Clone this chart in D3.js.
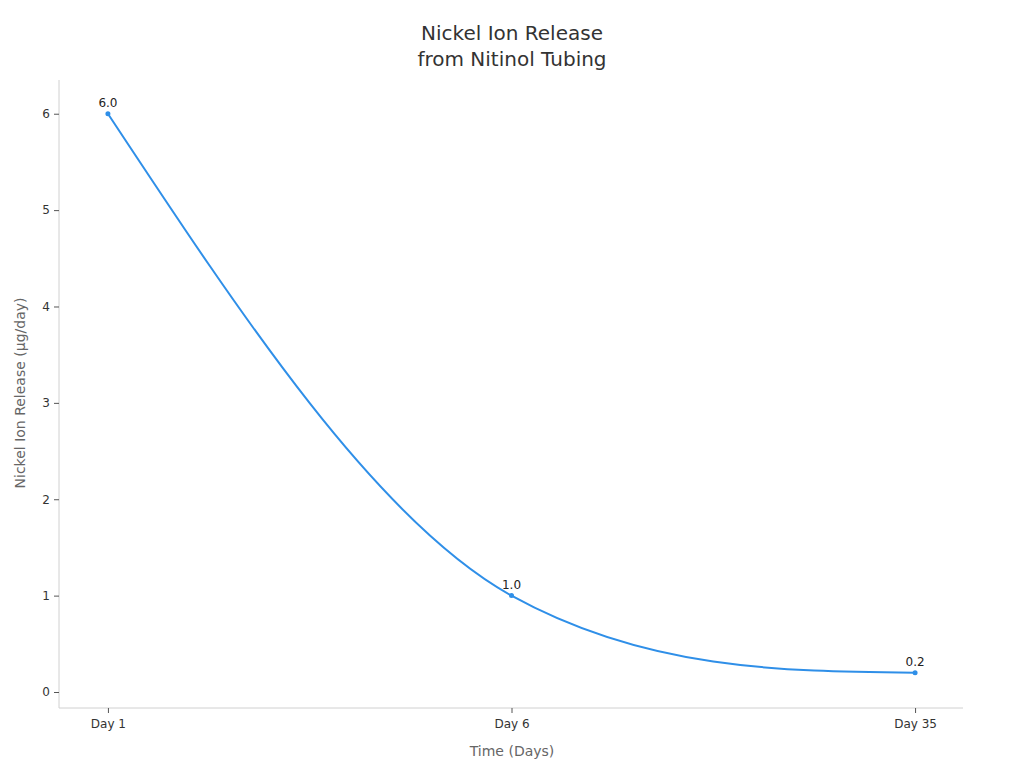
<!DOCTYPE html>
<html><head><meta charset="utf-8">
<script src="https://cdn.jsdelivr.net/npm/d3@7"></script>
<style>body{margin:0;background:#fff;font-family:"DejaVu Sans",sans-serif;}</style>
</head><body>
<svg id="c" width="1024" height="768"></svg>
<script>
const categories = ["Day 1", "Day 6", "Day 35"];
const values = [6.0, 1.0, 0.2];
const yTicks = [0, 1, 2, 3, 4, 5, 6];

const svg = d3.select("#c");
const mLeft = 59, mRight = 963, mTop = 80, mBottom = 708;

const x = d3.scalePoint().domain(categories).range([mLeft + 0.5, mRight + 0.5]).padding(0.12);
const y = d3.scaleLinear().domain([-0.166, 6.35]).range([mBottom, mTop]);

// Monotone cubic curve (Fritsch–Carlson interior tangents, one-sided end tangents)
function curveSmoothMono(context) {
  let pts = [];
  return {
    areaStart() {}, areaEnd() {},
    lineStart() { pts = []; },
    point(px, py) { pts.push([+px, +py]); },
    lineEnd() {
      const n = pts.length;
      if (!n) return;
      context.moveTo(pts[0][0], pts[0][1]);
      if (n === 1) return;
      if (n === 2) { context.lineTo(pts[1][0], pts[1][1]); return; }
      const d = [], m = new Array(n).fill(0);
      for (let i = 0; i < n - 1; i++) d.push((pts[i+1][1] - pts[i][1]) / (pts[i+1][0] - pts[i][0]));
      m[0] = d[0]; m[n-1] = d[n-2];
      for (let i = 1; i < n - 1; i++) m[i] = (d[i-1] * d[i] <= 0) ? 0 : (d[i-1] + d[i]) / 2;
      for (let i = 0; i < n - 1; i++) {
        if (d[i] === 0) { m[i] = 0; m[i+1] = 0; continue; }
        const a = m[i] / d[i], b = m[i+1] / d[i], s = a*a + b*b;
        if (s > 9) { const t = 3 / Math.sqrt(s); m[i] = t*a*d[i]; m[i+1] = t*b*d[i]; }
      }
      m[0] = (3 * d[0] - m[1]) / 2;
      m[n-1] = (3 * d[n-2] - m[n-2]) / 2;
      for (let i = 0; i < n - 1; i++) {
        const [x0, y0] = pts[i], [x1, y1] = pts[i+1], h = (x1 - x0) / 3;
        context.bezierCurveTo(x0 + h, y0 + m[i]*h, x1 - h, y1 - m[i+1]*h, x1, y1);
      }
    }
  };
}

svg.append("text").attr("x", 512).attr("y", 40).attr("text-anchor", "middle")
  .attr("font-size", 20).attr("fill", "#333").text("Nickel Ion Release");
svg.append("text").attr("x", 512).attr("y", 66).attr("text-anchor", "middle")
  .attr("font-size", 20).attr("fill", "#333").text("from Nitinol Tubing");

svg.append("line").attr("x1", mLeft).attr("x2", mLeft).attr("y1", mTop).attr("y2", mBottom)
  .attr("stroke", "#d0d0d0").attr("stroke-width", 1);
svg.append("line").attr("x1", mLeft).attr("x2", mRight).attr("y1", mBottom).attr("y2", mBottom)
  .attr("stroke", "#d0d0d0").attr("stroke-width", 1);

const yAxis = svg.append("g").attr("transform", `translate(${mLeft},0)`)
  .call(d3.axisLeft(y).tickValues(yTicks).tickSize(5).tickPadding(4).tickFormat(d3.format("d")));
yAxis.select(".domain").remove();
yAxis.selectAll("line").attr("stroke", "#555");
yAxis.selectAll("text").attr("font-size", 12).attr("fill", "#333").attr("font-family", "DejaVu Sans");

const xAxis = svg.append("g").attr("transform", `translate(0,${mBottom})`)
  .call(d3.axisBottom(x).tickSize(5).tickPadding(6));
xAxis.select(".domain").remove();
xAxis.selectAll("line").attr("stroke", "#555");
xAxis.selectAll("text").attr("font-size", 12).attr("fill", "#333").attr("font-family", "DejaVu Sans");

svg.append("text").attr("x", 512).attr("y", 756).attr("text-anchor", "middle")
  .attr("font-size", 14).attr("fill", "#666").text("Time (Days)");
svg.append("text").attr("transform", "translate(25,393) rotate(-90)").attr("text-anchor", "middle")
  .attr("font-size", 14).attr("fill", "#666").text("Nickel Ion Release (µg/day)");

const data = categories.map((c, i) => ({c, v: values[i]}));
const line = d3.line().x(d => x(d.c)).y(d => y(d.v)).curve(curveSmoothMono);
svg.append("path").datum(data).attr("d", line).attr("fill", "none")
  .attr("stroke", "#2f8fe8").attr("stroke-width", 2);

svg.selectAll("circle.pt").data(data).enter().append("circle")
  .attr("cx", d => x(d.c)).attr("cy", d => y(d.v)).attr("r", 2.5).attr("fill", "#2f8fe8");

svg.selectAll("text.lbl").data(data).enter().append("text")
  .attr("x", d => x(d.c)).attr("y", d => y(d.v) - 7).attr("text-anchor", "middle")
  .attr("font-size", 12).attr("fill", "#222").text(d => d.v.toFixed(1));
</script>
</body></html>
